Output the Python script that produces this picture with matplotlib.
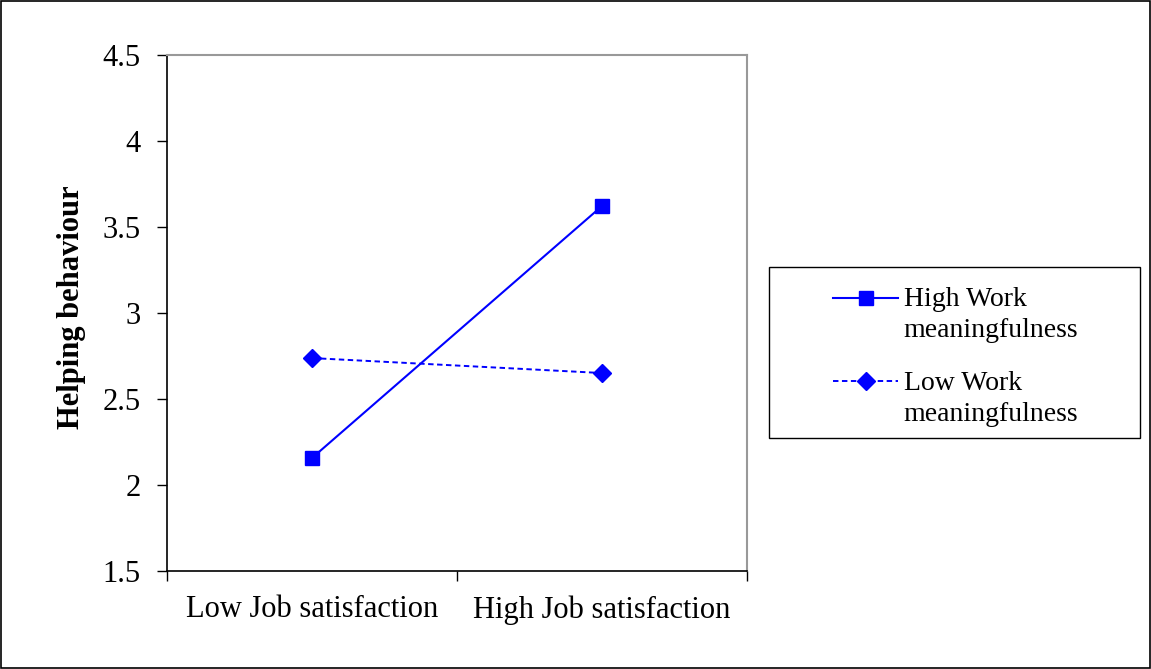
import matplotlib.pyplot as plt
from matplotlib.patches import Rectangle
from matplotlib.legend_handler import HandlerLine2D

categories = ["Low Job satisfaction", "High Job satisfaction"]
high_meaning = [2.157, 3.622]
low_meaning = [2.738, 2.651]
series_labels = ["High Work\nmeaningfulness", "Low Work\nmeaningfulness"]
y_ticks = [1.5, 2, 2.5, 3, 3.5, 4, 4.5]

plt.rcParams['font.family'] = ['Liberation Serif', 'DejaVu Serif']

W, H = 1151, 669
fig = plt.figure(figsize=(W / 100, H / 100), dpi=100)
ax = fig.add_axes([167 / W, 1 - 571 / H, 580 / W, 516 / H])

xpos = [0.5, 1.5]
blue = '#0000FF'
ax.plot(xpos, high_meaning, color=blue, lw=1.5, marker='s', ms=10.5,
        label=series_labels[0])
ax.plot(xpos, low_meaning, color=blue, lw=1.4, ls=(0, (2.8, 1.8)), marker='D', ms=9.5,
        label=series_labels[1])

ax.set_xlim(0, 2)
ax.set_ylim(1.5, 4.5)
ax.set_yticks(y_ticks)
ax.set_yticklabels([f"{v:g}" for v in y_ticks])
ax.set_xticks([0, 1, 2])
ax.set_xticklabels([])
ax.set_xticks(xpos, minor=True)
ax.set_xticklabels(categories, minor=True)
ax.tick_params(axis='x', which='minor', length=0, pad=17.5, labelsize=22)
ax.tick_params(axis='x', which='major', direction='out', length=7, width=1)
ax.tick_params(axis='y', direction='out', length=7, width=1, labelsize=22, pad=12)

for s in ['left', 'bottom']:
    ax.spines[s].set_color('black')
    ax.spines[s].set_linewidth(1.2)
for s in ['top', 'right']:
    ax.spines[s].set_color('#999999')
    ax.spines[s].set_linewidth(1.5)

ax.set_ylabel("Helping behaviour", fontsize=22, fontweight='bold', labelpad=12)
ax.yaxis.label.set_y(0.512)


class FirstLineHandler(HandlerLine2D):
    """Places the legend sample beside the first line of a two-line label."""

    def create_artists(self, legend, orig_handle, xdescent, ydescent, width,
                       height, fontsize, trans):
        return super().create_artists(legend, orig_handle, xdescent,
                                      ydescent - 0.62 * fontsize * 2, width,
                                      height, fontsize, trans)


# legend entries without frame; the box is drawn separately
leg = fig.legend(loc='center left', bbox_to_anchor=(833 / W, 1 - 357 / H),
                 frameon=False, fontsize=20, handlelength=2.35, labelspacing=1.0,
                 borderpad=0, handletextpad=0.2, borderaxespad=0,
                 handler_map={ax.lines[0]: FirstLineHandler(),
                              ax.lines[1]: FirstLineHandler()})
for t in leg.get_texts():
    t.set_linespacing(1.3)

fig.patches.append(Rectangle((769 / W, 1 - 438 / H), 371 / W, 171 / H,
                             transform=fig.transFigure, fill=False,
                             edgecolor='black', lw=1.0))

fig.patches.append(Rectangle((0.001, 0.001), 0.998, 0.997, transform=fig.transFigure,
                             fill=False, edgecolor='black', lw=1.2))

fig.savefig("out.png", dpi=100)
